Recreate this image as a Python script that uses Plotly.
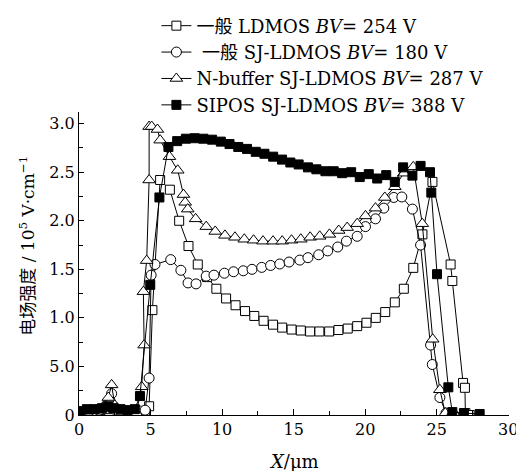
import plotly.graph_objects as go

# 一般 LDMOS BV=254 V (open squares)
ld_x = [0, 0.5, 1.0, 1.5, 2.0, 2.3, 2.7, 3.2, 3.7, 4.2, 4.6, 4.9, 5.13, 5.67, 6.35, 7.0, 7.65, 8.3,
        8.95, 9.6, 10.28, 10.94, 11.6, 12.25, 12.9, 13.56, 14.2, 14.86, 15.5, 16.15, 16.8, 17.48,
        18.13, 18.78, 19.44, 20.09, 20.74, 21.4, 22.07, 22.7, 23.36, 24.0, 24.7, 25.97, 26.09,
        26.84, 26.97, 27.0, 27.3]
ld_y = [0.02, 0.03, 0.04, 0.05, 0.06, 0.08, 0.04, 0.02, 0.02, 0.02, 0.03, 0.09, 1.08, 2.42, 2.32,
        2.0, 1.74, 1.55, 1.42, 1.30, 1.20, 1.13, 1.07, 1.02, 0.97, 0.93, 0.90, 0.88, 0.87, 0.86,
        0.86, 0.86, 0.875, 0.89, 0.915, 0.95, 1.00, 1.06, 1.16, 1.30, 1.515, 1.86, 2.40, 1.55,
        1.38, 0.33, 0.28, 0.02, 0.0]

# 一般 SJ-LDMOS BV=180 V (open circles)
sj_x = [0, 0.7, 1.4, 1.9, 2.16, 2.28, 2.5, 3.0, 3.5, 4.0, 4.3, 4.62, 4.9, 5.04, 5.31, 6.41, 7.12,
        7.62, 8.18, 8.89, 9.43, 10.16, 10.8, 11.48, 12.09, 12.77, 13.39, 14.03, 14.68, 15.43,
        16.0, 16.75, 17.38, 18.08, 18.69, 19.44, 20.02, 20.72, 21.3, 22.0, 22.56, 23.3, 23.87,
        24.57, 24.69, 25.22, 25.65, 26.2]
sj_y = [0.02, 0.04, 0.05, 0.10, 0.15, 0.22, 0.08, 0.02, 0.01, 0.02, 0.04, 0.05, 0.38, 1.44, 1.55,
        1.60, 1.49, 1.36, 1.35, 1.43, 1.44, 1.46, 1.475, 1.485, 1.50, 1.52, 1.54, 1.555, 1.575,
        1.595, 1.62, 1.65, 1.69, 1.73, 1.79, 1.84, 1.94, 2.02, 2.13, 2.24, 2.245, 2.12, 1.75,
        0.72, 0.52, 0.18, 0.02, 0.0]

# N-buffer SJ-LDMOS BV=287 V (open triangles)
nb_x = [0, 0.6, 1.2, 1.7, 2.05, 2.28, 2.5, 3.0, 3.5, 4.0, 4.38, 4.55, 4.5, 4.73, 4.9, 4.9, 5.08,
        5.48, 5.67, 6.32, 6.9, 7.3, 7.42, 7.6, 8.15, 8.89, 9.52, 10.2, 10.9, 11.55, 12.2, 12.86,
        13.56, 14.2, 14.85, 15.5, 16.15, 16.82, 17.5, 18.15, 18.74, 19.44, 20.02, 20.72, 21.37,
        22.07, 22.7, 23.36, 23.99, 24.72, 25.22, 25.6, 26.0]
nb_y = [0.03, 0.04, 0.05, 0.08, 0.18, 0.31, 0.10, 0.03, 0.02, 0.02, 0.29, 0.72, 1.27, 1.59, 2.42,
        2.97, 2.97, 2.94, 2.83, 2.66, 2.52, 2.27, 2.19, 2.12, 2.02, 1.94, 1.89, 1.85, 1.83, 1.81,
        1.80, 1.79, 1.79, 1.79, 1.80, 1.81, 1.83, 1.84, 1.86, 1.90, 1.93, 1.97, 2.05, 2.13, 2.24,
        2.35, 2.49, 2.555, 1.97, 0.78, 0.26, 0.02, 0.0]

# SIPOS SJ-LDMOS BV=388 V (filled squares)
sp_x = [0, 0.55, 1.1, 1.6, 2.05, 2.4, 2.9, 3.4, 3.9, 4.26, 4.98, 5.62, 6.25, 6.86, 7.47, 8.08,
        8.69, 9.30, 9.91, 10.52, 11.13, 11.74, 12.35, 12.96, 13.57, 14.19, 14.77, 15.35, 16.0,
        16.59, 17.22, 17.8, 18.39, 19.02, 19.62, 20.25, 20.84, 21.47, 22.07, 22.65, 23.3, 23.87,
        24.53, 24.62, 25.02, 25.81, 26.09, 26.9, 28.0]
sp_y = [0.04, 0.06, 0.06, 0.07, 0.09, 0.07, 0.06, 0.05, 0.06, 0.195, 1.34, 2.24, 2.76, 2.82,
        2.845, 2.85, 2.845, 2.835, 2.815, 2.79, 2.76, 2.74, 2.71, 2.69, 2.66, 2.63, 2.60, 2.58,
        2.55, 2.53, 2.51, 2.51, 2.49, 2.50, 2.45, 2.48, 2.435, 2.47, 2.40, 2.55, 2.465, 2.565,
        2.50, 2.29, 1.45, 0.285, 0.03, 0.02, 0.01]

names = ["一般 LDMOS <i>BV</i>= 254 V",
         " 一般 SJ-LDMOS <i>BV</i>= 180 V",
         "N-buffer SJ-LDMOS <i>BV</i>= 287 V",
         "SIPOS SJ-LDMOS <i>BV</i>= 388 V"]

y_tickvals = [0, 0.5, 1.0, 1.5, 2.0, 2.5, 3.0]
y_ticktext = ["0", "5.0", "1.0", "1.5", "2.0", "2.5", "3.0"]
x_dtick = 5

FONT = "'DejaVu Serif', 'Noto Sans CJK SC', serif"

fig = go.Figure()
styles = [
    (ld_x, ld_y, "square", "white", 9),
    (sj_x, sj_y, "circle", "white", 10),
    (nb_x, nb_y, "triangle-up", "white", 11),
    (sp_x, sp_y, "square", "black", 9),
]
for i, (xs, ys, sym, fill, sz) in enumerate(styles):
    fig.add_trace(go.Scatter(
        x=xs, y=ys, mode="lines+markers", name=names[i], legendgroup=str(i),
        line=dict(color="black", width=1),
        marker=dict(symbol=sym, size=sz, color=fill, line=dict(color="black", width=1)),
    ))

fig.update_layout(
    width=516, height=471,
    margin=dict(l=79, r=7, t=112, b=56),
    paper_bgcolor="white", plot_bgcolor="white",
    font=dict(family=FONT, size=16, color="black"),
    legend=dict(x=0.18, y=1.345, xanchor="left", yanchor="top", bgcolor="rgba(0,0,0,0)",
                font=dict(family=FONT, size=18), tracegroupgap=1, traceorder="normal"),
    xaxis=dict(range=[0, 30.05], tickmode="linear", tick0=0, dtick=x_dtick, showline=True,
               linecolor="black", linewidth=1,
               ticks="inside", ticklen=6, tickcolor="black", showgrid=False, zeroline=False,
               minor=dict(dtick=2.5, ticks="inside", ticklen=4, tickcolor="black"),
               ticklabeloverflow="allow", automargin=False,
               tickfont=dict(family=FONT, size=16)),
    yaxis=dict(range=[0, 3.12], tickvals=y_tickvals, ticktext=y_ticktext, showline=True,
               linecolor="black", linewidth=1, ticks="inside", ticklen=5, tickcolor="black",
               showgrid=False, zeroline=False,
               minor=dict(dtick=0.25, ticks="inside", ticklen=4, tickcolor="black"),
               tickfont=dict(family=FONT, size=16)),
    annotations=[
        dict(text="<i>X</i>/μm", xref="paper", yref="paper", x=0.5, y=-0.155,
             xanchor="center", yanchor="middle", showarrow=False, font=dict(family=FONT, size=18)),
        dict(text="电场强度 / 10<sup>5</sup> V·cm<sup>−1</sup>", xref="paper", yref="paper",
             x=-0.12, y=0.56, textangle=-90, xanchor="center", yanchor="middle",
             showarrow=False, font=dict(family=FONT, size=17)),
    ],
)

fig.write_html("out.html")
